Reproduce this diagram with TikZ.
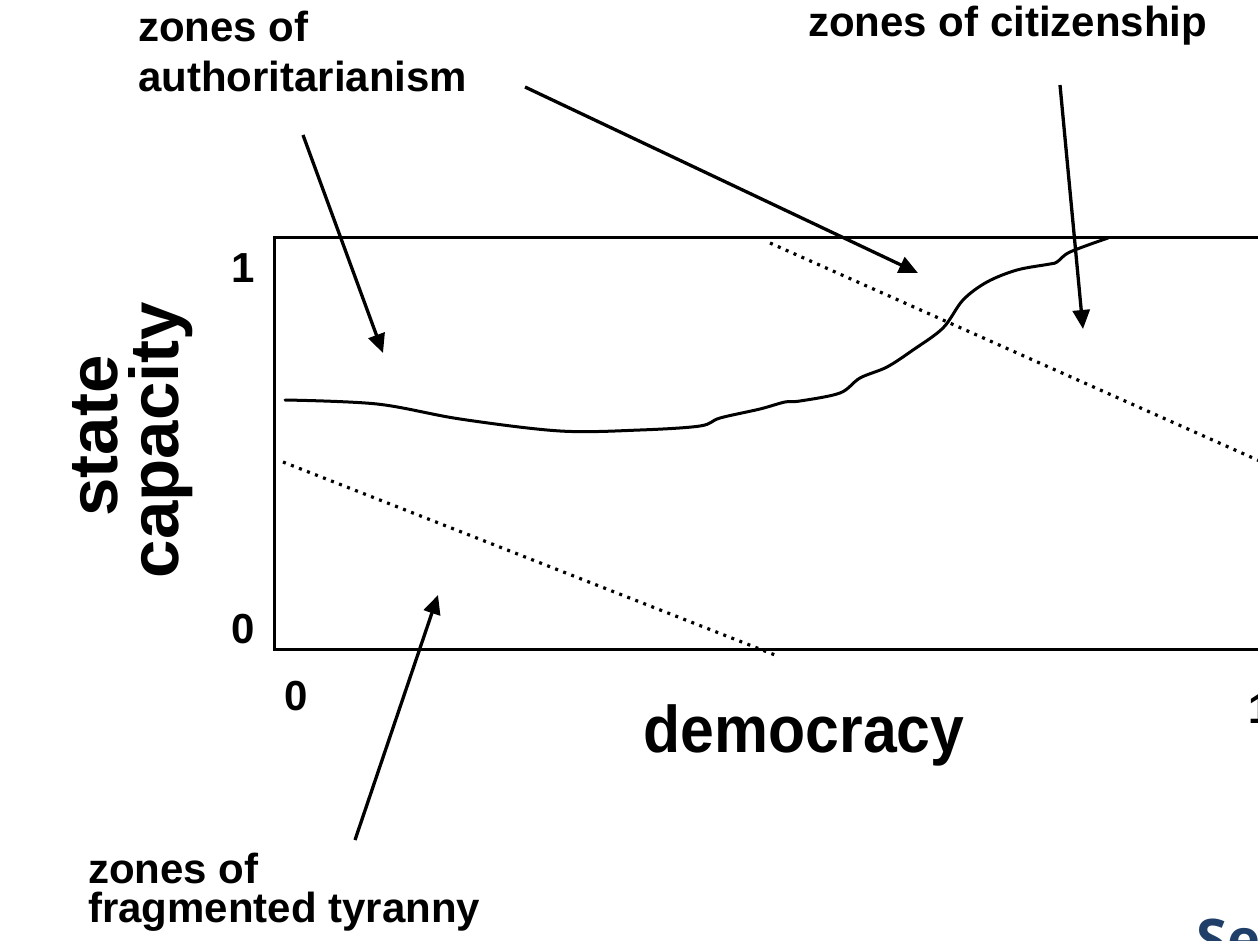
\documentclass[tikz,border=0pt]{standalone}
\usepackage{fontspec}
\setmainfont{Liberation Sans}
\newfontfamily\opensansfam{Open Sans}
\usetikzlibrary{arrows.meta}
\definecolor{navyblue}{HTML}{1F3F68}
\begin{document}
\begin{tikzpicture}[x=1pt,y=-1pt,
  lbl/.style={font=\fontsize{42}{42}\selectfont\bfseries, inner sep=0pt, anchor=base west},
  num/.style={font=\fontsize{42}{42}\selectfont\bfseries, inner sep=0pt, anchor=base},
  axtitle/.style={font=\fontsize{69}{69}\selectfont\bfseries, inner sep=0pt, anchor=base},
  ptr/.style={line width=3.3pt, -{Triangle[length=19pt,width=17pt]}},
  frame/.style={line width=3pt},
  zoneline/.style={line width=3.2pt, dash pattern=on 3pt off 5.6pt},
  curveline/.style={line width=3pt, line join=round, line cap=round}]
\useasboundingbox (0,0) rectangle (1258,941);
\clip (0,0) rectangle (1258,941);

% frame
\coordinate (tl) at (274,238);
\coordinate (bl) at (274,649);
\coordinate (tr) at (1262,238);
\coordinate (br) at (1262,649);
\draw[frame] (tr) -- (tl) -- (bl) -- (br);

% dotted zone borders
\coordinate (d1s) at (770,243);
\coordinate (d1e) at (1262,462);
\coordinate (d2s) at (283,462);
\coordinate (d2e) at (775,655);
\draw[zoneline] (d1s) -- (d1e);
\draw[zoneline] (d2s) -- (d2e);

% curve
\draw[curveline] plot[smooth, tension=0.55] coordinates {(285,400) (377,404) (460,419) (560,431) (640,430) (700,426) (720,418) (760,409) (785,402) (800,401) (840,393) (860,378) (887,367) (913,350) (943,328) (963,300) (987,282) (1017,270) (1050,264) (1057,262) (1070,252) (1108,238)};

% labels
\node[lbl] (tla) at (138,42) {zones of};
\node[lbl] (tlb) at (138,92) {authoritarianism};
\node[lbl] (trz) at (808,37) {zones of citizenship};
\node[lbl] (bla) at (88,883) {zones of};
\node[lbl] (blb) at (88,922) {fragmented tyranny};

% axis numbers
\node[num] (yone) at (243,283) {1};
\node[num] (yzero) at (243,643) {0};
\node[num] (xzero) at (296,710) {0};
\node[num] (xone) at (1260,723) {1};

% axis titles
\node[axtitle, rotate=90] (st) at (117,436) {state};
\node[axtitle, rotate=90] (cap) at (178,440) {capacity};
\node[font=\fontsize{66}{66}\selectfont\bfseries, inner sep=0pt, anchor=base, xscale=0.92] (dem) at (804,752) {democracy};

% pointers
\coordinate (a1s) at (303,135);
\coordinate (a1e) at (383,353);
\coordinate (a2s) at (525,87);
\coordinate (a2e) at (918,273);
\coordinate (a3s) at (1060,85);
\coordinate (a3e) at (1083,329);
\coordinate (a4s) at (355,840);
\coordinate (a4e) at (438,595);
\draw[ptr] (a1s) -- (a1e);
\draw[ptr] (a2s) -- (a2e);
\draw[ptr] (a3s) -- (a3e);
\draw[ptr] (a4s) -- (a4e);

% partial blue caption
\node[font=\opensansfam\fontsize{56}{56}\selectfont\bfseries, text=navyblue, anchor=base west, inner sep=0pt] (se) at (1196,959) {Se};
\end{tikzpicture}
\end{document}
